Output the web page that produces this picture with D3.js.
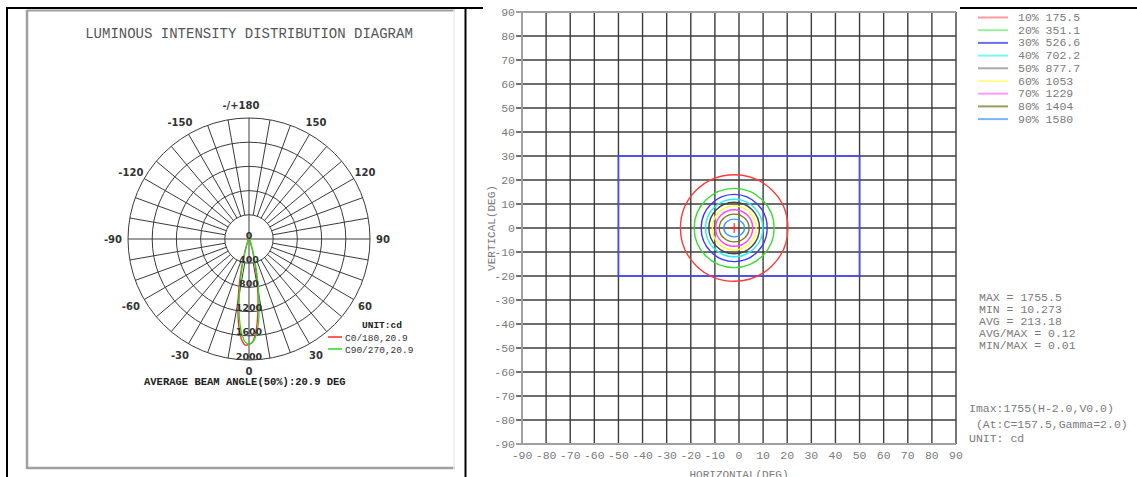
<!DOCTYPE html>
<html><head><meta charset="utf-8">
<script src="https://cdn.jsdelivr.net/npm/d3@7"></script>
<style>
html,body{margin:0;padding:0;background:#fff;}
svg{display:block;}
</style></head>
<body>
<svg id="chart" width="1137" height="477"></svg>
<script>
// ---------- DATA ----------
const polarGamma = [0, 2, 4, 6, 8, 10, 12, 14, 16, 18, 20, 25, 30, 40, 50, 60, 70, 80, 90];
const c0   = [1740, 1700, 1560, 1340, 1080, 820, 580, 390, 250, 160, 105, 50, 30, 20, 16, 14, 12, 11, 10];
const c180 = [1740, 1755, 1680, 1520, 1300, 1040, 780, 540, 350, 220, 140, 60, 35, 22, 17, 14, 12, 11, 10];
const c90  = [1740, 1710, 1610, 1440, 1200, 930, 680, 460, 300, 190, 120, 55, 32, 21, 16, 14, 12, 11, 10];
const c270 = [1740, 1710, 1600, 1420, 1180, 910, 660, 450, 290, 185, 115, 52, 31, 20, 16, 14, 12, 11, 10];
const polarRings = [400, 800, 1200, 1600, 2000];
const polarAngleLabels = [-150, -120, -90, -60, -30, 0, 30, 60, 90, 120, 150, 180];
const polarLegend = ["C0/180,20.9", "C90/270,20.9"];

const isoLevels = ["10%", "20%", "30%", "40%", "50%", "60%", "70%", "80%", "90%"];
const isoValues = ["175.5", "351.1", "526.6", "702.2", "877.7", "1053", "1229", "1404", "1580"];
const isoRadH = [22.3, 16.6, 13.7, 11.9, 10.5, 9.1, 7.7, 6.2, 4.3];
const isoRadV = [22.2, 16.5, 14.0, 12.0, 10.7, 9.2, 7.6, 5.8, 3.7];
const isoColors = ["#ff3a3a", "#35dd35", "#3a3aff", "#22eeff", "#444444", "#ffff30", "#ff44ff", "#7a7a20", "#3a96ff"];
const legendColors = ["#ff9a9a", "#9af09a", "#6a6aff", "#7af4ff", "#aaaaaa", "#ffff90", "#ff9aff", "#9a9a5a", "#7ab4ff"];
const peakH = -2.0, peakV = 0.0;
const rectH = [-50, 50];
const rectV = [-20, 30];
const axisTicks = [-90, -80, -70, -60, -50, -40, -30, -20, -10, 0, 10, 20, 30, 40, 50, 60, 70, 80, 90];
const statsLines = ["MAX = 1755.5", "MIN = 10.273", "AVG = 213.18", "AVG/MAX = 0.12", "MIN/MAX = 0.01"];
const imaxLines = ["Imax:1755(H-2.0,V0.0)", " (At:C=157.5,Gamma=2.0)", "UNIT: cd"];

// ---------- SETUP ----------
const svg = d3.select("#chart");
const mono = "'Courier New','Liberation Mono',monospace";

// table borders
svg.append("line").attr("x1", 6).attr("x2", 483).attr("y1", 8).attr("y2", 8).attr("stroke", "#000").attr("stroke-width", 2);
svg.append("line").attr("x1", 960).attr("x2", 1137).attr("y1", 8).attr("y2", 8).attr("stroke", "#000").attr("stroke-width", 2);
svg.append("line").attr("x1", 7).attr("x2", 7).attr("y1", 8).attr("y2", 477).attr("stroke", "#000").attr("stroke-width", 2);
svg.append("line").attr("x1", 465.5).attr("x2", 465.5).attr("y1", 8).attr("y2", 477).attr("stroke", "#000").attr("stroke-width", 2);

// left image frame
svg.append("line").attr("x1", 27).attr("x2", 455).attr("y1", 10.5).attr("y2", 10.5).attr("stroke", "#a0a0a0").attr("stroke-width", 2);
svg.append("line").attr("x1", 27).attr("x2", 27).attr("y1", 10).attr("y2", 469).attr("stroke", "#a0a0a0").attr("stroke-width", 2.5);
svg.append("line").attr("x1", 27).attr("x2", 455).attr("y1", 468).attr("y2", 468).attr("stroke", "#a0a0a0").attr("stroke-width", 2.5);
svg.append("line").attr("x1", 454).attr("x2", 454).attr("y1", 10).attr("y2", 469).attr("stroke", "#eeeeee").attr("stroke-width", 1.5);

// ---------- POLAR ----------
const cx = 249, cy = 239, R = 121;
const rScale = d3.scaleLinear().domain([0, 2000]).range([0, R]);
const pg = svg.append("g").attr("transform", `translate(${cx},${cy})`);

svg.append("text").attr("x", cx).attr("y", 38).attr("text-anchor", "middle")
  .attr("font-family", mono).attr("font-size", 14).attr("fill", "#555")
  .text("LUMINOUS INTENSITY DISTRIBUTION DIAGRAM");

// rings
pg.selectAll("circle.ring").data(polarRings).enter().append("circle")
  .attr("r", d => rScale(d)).attr("fill", "none").attr("stroke", "#3a3a3a").attr("stroke-width", 1);

// spokes
const spokeAngles = d3.range(0, 360, 10);
const toXY = (deg, r) => [r * Math.sin(deg * Math.PI / 180), r * Math.cos(deg * Math.PI / 180)];
pg.selectAll("line.spoke").data(spokeAngles).enter().append("line")
  .attr("x1", d => toXY(d, (d % 90 === 0) ? 0 : rScale(polarRings[0]))[0])
  .attr("y1", d => toXY(d, (d % 90 === 0) ? 0 : rScale(polarRings[0]))[1])
  .attr("x2", d => toXY(d, R)[0])
  .attr("y2", d => toXY(d, R)[1])
  .attr("stroke", "#3a3a3a").attr("stroke-width", 1);

// curves
function planePoints(leftVals, rightVals) {
  const pts = [];
  for (let i = polarGamma.length - 1; i >= 0; i--) pts.push({a: -polarGamma[i], v: leftVals[i]});
  for (let i = 1; i < polarGamma.length; i++) pts.push({a: polarGamma[i], v: rightVals[i]});
  return pts;
}
const radial = d3.lineRadial()
  .angle(d => Math.PI - d.a * Math.PI / 180)
  .radius(d => rScale(d.v))
  .curve(d3.curveCatmullRom.alpha(0.5));
pg.append("path").attr("d", radial(planePoints(c180, c0))).attr("fill", "none").attr("stroke", "#ff2a2a").attr("stroke-width", 1.3);
pg.append("path").attr("d", radial(planePoints(c270, c90))).attr("fill", "none").attr("stroke", "#22e022").attr("stroke-width", 1.3);

// ring labels
const ringLab = "'DejaVu Sans',Verdana,sans-serif";
pg.selectAll("text.rl").data([0].concat(polarRings)).enter().append("text")
  .attr("x", 0).attr("y", d => rScale(d)).attr("dy", "-0.5")
  .attr("text-anchor", "middle").attr("font-family", ringLab).attr("font-weight", "bold")
  .attr("font-size", 9.5).attr("fill", "#333").text(d => d);

// angle labels
const LR = 134;
const meas = svg.append("text").attr("font-family", ringLab).attr("font-weight", "bold").attr("font-size", 10).attr("visibility", "hidden");
pg.selectAll("text.al").data(polarAngleLabels).enter().append("text")
  .attr("font-family", ringLab).attr("font-weight", "bold").attr("font-size", 10).attr("fill", "#333")
  .attr("dominant-baseline", "central").attr("text-anchor", "end")
  .attr("y", d => toXY(d, d === 0 ? 132 : LR)[1])
  .attr("x", d => {
    meas.text(String(Math.abs(d)));
    const w = meas.node().getComputedTextLength();
    return toXY(d, LR)[0] + w / 2;
  })
  .text(d => d === 180 ? "-/+180" : String(d));
meas.remove();

// legend
svg.append("text").attr("x", 362).attr("y", 328).attr("font-family", mono).attr("font-weight", "bold")
  .attr("font-size", 9.5).attr("fill", "#222").text("UNIT:cd");
const polarLegColors = ["#ff2a2a", "#22e022"];
polarLegend.forEach((t, i) => {
  const y = 337 + i * 12;
  svg.append("line").attr("x1", 328).attr("x2", 342).attr("y1", y).attr("y2", y).attr("stroke", polarLegColors[i]).attr("stroke-width", 1.5);
  svg.append("text").attr("x", 345).attr("y", y + 3.5).attr("font-family", mono).attr("font-size", 9.5).attr("fill", "#333").text(t);
});
svg.append("text").attr("x", 144).attr("y", 385).attr("font-family", mono).attr("font-weight", "bold")
  .attr("font-size", 10.5).attr("fill", "#222").text("AVERAGE BEAM ANGLE(50%):20.9 DEG");

// ---------- ISO CANDELA ----------
svg.append("defs").append("clipPath").attr("id", "rclip").append("rect")
  .attr("x", 467).attr("y", 8).attr("width", 670).attr("height", 469);
const rg = svg.append("g").attr("clip-path", "url(#rclip)");
const xS = d3.scaleLinear().domain([-90, 90]).range([522, 956]);
const yS = d3.scaleLinear().domain([-90, 90]).range([444, 12]);
const gridCol = "#3c3c3c";

// grid
rg.selectAll("line.vg").data(axisTicks).enter().append("line")
  .attr("x1", d => xS(d)).attr("x2", d => xS(d)).attr("y1", yS(90)).attr("y2", yS(-90))
  .attr("stroke", (d, i) => i === 0 ? "#a0a0a0" : gridCol).attr("stroke-width", (d, i) => i === 0 ? 2 : 1.4);
rg.selectAll("line.hg").data(axisTicks).enter().append("line")
  .attr("x1", xS(-90) - 6).attr("x2", xS(90)).attr("y1", d => yS(d)).attr("y2", d => yS(d))
  .attr("stroke", (d, i) => (i === 0 || i === axisTicks.length - 1) ? "#a0a0a0" : gridCol)
  .attr("stroke-width", (d, i) => (i === 0 || i === axisTicks.length - 1) ? 2 : 1.4);
// left axis over ticks
rg.append("line").attr("x1", xS(-90)).attr("x2", xS(-90)).attr("y1", yS(90)).attr("y2", yS(-90)).attr("stroke", "#a0a0a0").attr("stroke-width", 2);
rg.append("line").attr("x1", xS(-90)).attr("x2", xS(90)).attr("y1", yS(-90)).attr("y2", yS(-90)).attr("stroke", "#a0a0a0").attr("stroke-width", 2);

// tick labels
const txtCol = "#7a7a7a";
rg.selectAll("text.yl").data(axisTicks).enter().append("text")
  .attr("x", 515).attr("y", d => yS(d)).attr("dominant-baseline", "central").attr("text-anchor", "end")
  .attr("font-family", mono).attr("font-size", 11.5).attr("fill", txtCol).text(d => d);
rg.selectAll("text.xl").data(axisTicks).enter().append("text")
  .attr("x", d => xS(d)).attr("y", 459).attr("text-anchor", "middle")
  .attr("font-family", mono).attr("font-size", 11.5).attr("fill", txtCol).text(d => d);
rg.append("text").attr("transform", `translate(495,${yS(0)}) rotate(-90)`).attr("text-anchor", "middle")
  .attr("font-family", mono).attr("font-size", 11).attr("fill", txtCol).text("VERTICAL(DEG)");
rg.append("text").attr("x", xS(0)).attr("y", 478).attr("text-anchor", "middle")
  .attr("font-family", mono).attr("font-size", 11).attr("fill", txtCol).text("HORIZONTAL(DEG)");

// blue rectangle
rg.append("rect").attr("x", xS(rectH[0])).attr("y", yS(rectV[1]))
  .attr("width", xS(rectH[1]) - xS(rectH[0])).attr("height", yS(rectV[0]) - yS(rectV[1]))
  .attr("fill", "none").attr("stroke", "#4a4aff").attr("stroke-width", 1.6);

// contours
rg.selectAll("ellipse.iso").data(isoLevels).enter().append("ellipse")
  .attr("cx", xS(peakH)).attr("cy", yS(peakV))
  .attr("rx", (d, i) => xS(isoRadH[i]) - xS(0))
  .attr("ry", (d, i) => yS(0) - yS(isoRadV[i]))
  .attr("fill", "none").attr("stroke", (d, i) => isoColors[i]).attr("stroke-width", 1.4);
// peak cross
rg.append("line").attr("x1", xS(peakH) - 4).attr("x2", xS(peakH) + 4).attr("y1", yS(peakV)).attr("y2", yS(peakV)).attr("stroke", "#ff2a2a").attr("stroke-width", 1.2);
rg.append("line").attr("x1", xS(peakH)).attr("x2", xS(peakH)).attr("y1", yS(peakV) - 5).attr("y2", yS(peakV) + 5).attr("stroke", "#ff2a2a").attr("stroke-width", 1.2);

// iso legend
isoLevels.forEach((lv, i) => {
  const y = 17.5 + i * 12.7;
  rg.append("line").attr("x1", 978).attr("x2", 1008).attr("y1", y).attr("y2", y).attr("stroke", legendColors[i]).attr("stroke-width", 2);
  rg.append("text").attr("x", 1018).attr("y", y).attr("dominant-baseline", "central")
    .attr("font-family", mono).attr("font-size", 11.5).attr("fill", txtCol).attr("xml:space", "preserve").text(lv + " " + isoValues[i]);
});

// stats
statsLines.forEach((t, i) => {
  rg.append("text").attr("x", 979).attr("y", 297 + i * 12.2).attr("dominant-baseline", "central")
    .attr("font-family", mono).attr("font-size", 11.5).attr("fill", txtCol).text(t);
});
imaxLines.forEach((t, i) => {
  rg.append("text").attr("x", 969).attr("y", [408, 424, 438][i]).attr("dominant-baseline", "central")
    .attr("font-family", mono).attr("font-size", 11.5).attr("fill", txtCol).attr("xml:space", "preserve").text(t);
});
</script>
</body></html>
